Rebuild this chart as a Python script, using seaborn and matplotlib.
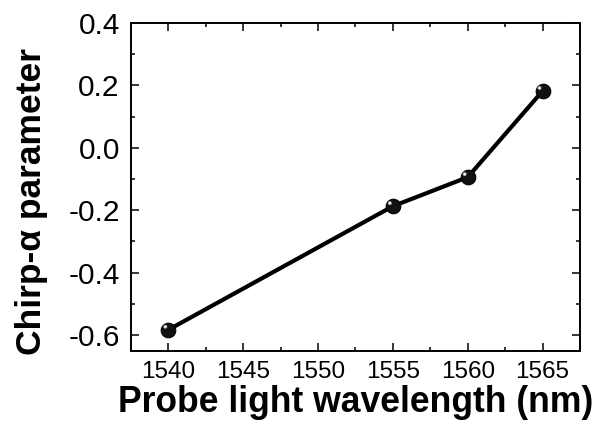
import matplotlib
matplotlib.use("Agg")
import matplotlib.pyplot as plt
import matplotlib.transforms as mtransforms
from matplotlib.ticker import MultipleLocator, FormatStrFormatter
import seaborn as sns
import pandas as pd

wavelength = [1540, 1555, 1560, 1565]
chirp_alpha = [-0.583, -0.187, -0.094, 0.182]
x_ticks = [1540, 1545, 1550, 1555, 1560, 1565]
y_ticks = [-0.6, -0.4, -0.2, 0.0, 0.2, 0.4]

sns.set_theme(style="ticks")
plt.rcParams['font.family'] = ['Liberation Sans', 'DejaVu Sans']
plt.rcParams['axes.unicode_minus'] = False
plt.rcParams['text.color'] = 'black'
plt.rcParams['axes.labelcolor'] = 'black'

df = pd.DataFrame({"wl": wavelength, "alpha": chirp_alpha})

fig = plt.figure(figsize=(5.94, 4.23), dpi=100)
ax = fig.add_axes([0.2205, 0.1702, 0.7559, 0.7754])

sns.lineplot(data=df, x="wl", y="alpha", ax=ax, color="black", linewidth=3.0,
             marker="o", markersize=10.5, markerfacecolor="#111111",
             markeredgecolor="black", markeredgewidth=0.8, zorder=3)
# specular highlight for sphere look
offset = mtransforms.ScaledTranslation(-2.2/72, 2.2/72, fig.dpi_scale_trans)
ax.scatter(df["wl"], df["alpha"], s=8, color="#aaaaaa", edgecolors="none",
           transform=ax.transData + offset, zorder=4)
ax.scatter(df["wl"], df["alpha"], s=2.5, color="white", edgecolors="none",
           transform=ax.transData + offset, zorder=5)

ax.set_xlim(1537.5, 1567.5)
ax.set_ylim(-0.651, 0.4)
ax.set_xticks(x_ticks)
ax.set_yticks(y_ticks)
ax.xaxis.set_minor_locator(MultipleLocator(2.5))
ax.yaxis.set_minor_locator(MultipleLocator(0.1))
ax.yaxis.set_major_formatter(FormatStrFormatter('%.1f'))

ax.tick_params(which="both", direction="in", top=True, right=True, color="black", width=1.1)
ax.tick_params(which="major", length=5.5, labelcolor="black")
ax.tick_params(axis="x", which="major", pad=7.5, labelsize=17.5)
ax.tick_params(axis="y", which="major", pad=8, labelsize=21.5)
ax.tick_params(which="minor", length=3)
for lab in ax.get_yticklabels():
    lab.set_family(['Liberation Sans Narrow', 'Liberation Sans', 'DejaVu Sans'])
for s in ax.spines.values():
    s.set_linewidth(1.4)
    s.set_color("black")

ax.set_xlabel("Probe light wavelength (nm)", fontsize=25.6, fontweight="bold", labelpad=1)
ax.set_ylabel("Chirp-α parameter", fontsize=25.5, fontweight="bold")
ax.yaxis.set_label_coords(-0.184, 0.457)

fig.savefig("out.png", dpi=100)
